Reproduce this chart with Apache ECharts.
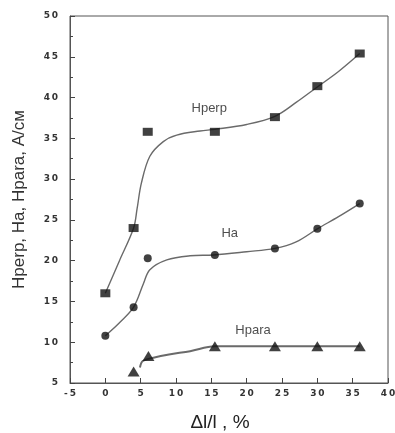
<!DOCTYPE html>
<html>
<head>
<meta charset="utf-8">
<script src="https://cdn.jsdelivr.net/npm/echarts@6/dist/echarts.min.js"></script>
<style>
  html, body { margin: 0; padding: 0; background: #fff; }
  #chart { width: 395px; height: 433px; }
</style>
</head>
<body>
<div id="chart"></div>
<script>
// measured points (strain, %)
var perpX = [0, 4, 6, 15.5, 24, 30, 36];
var perpY = [16, 24, 35.8, 35.8, 37.6, 41.4, 45.4];
var haX = [0, 4, 6, 15.5, 24, 30, 36];
var haY = [10.8, 14.3, 20.3, 20.7, 21.5, 23.9, 27];
var paraX = [4, 6.1, 15.5, 24, 30, 36];
var paraY = [6.4, 8.3, 9.5, 9.5, 9.5, 9.5];

// fitted curves
var perpFit = [[0, 16], [2, 20], [4, 24], [4.5, 26.4], [5.1, 29.5], [6.3, 32.8], [8.2, 34.6], [10.1, 35.4],
  [13.4, 35.9], [15.5, 36.1], [20, 36.7], [24, 37.7], [27, 39.4], [30, 41.3], [33, 43.2], [36, 45.4]];
var haFit = [[0, 10.8], [2, 12.4], [4, 14.3], [5.4, 17.2], [6.3, 18.9], [8.7, 20.1], [12, 20.6],
  [15.3, 20.7], [20, 21.1], [24, 21.5], [27, 22.3], [30, 23.9], [33, 25.4], [36, 27]];
var paraFit = [[4.9, 6.9], [5.3, 7.7], [6.8, 8.1], [9, 8.5], [12, 8.9], [15.5, 9.5], [24, 9.5], [30, 9.5], [36, 9.5]];

// curve names and where they are written
var curveNames = ['Hperp', 'Ha', 'Hpara'];
var namePos = [[14.7, 38.7], [17.6, 23.4], [20.9, 11.5]];

var xTicks = [-5, 40, 5];
var yTicks = [5, 50, 5];

function pairs(xs, ys) {
  return xs.map(function (x, i) { return [x, ys[i]]; });
}
function spaced(v) {
  return String(v).split('').join('\u2009');
}

var chart = echarts.init(document.getElementById('chart'));

var lineStyle = { color: '#6a6a6a', width: 1.4 };

var option = {
  animation: false,
  grid: {
    left: 70, top: 16, right: 7, bottom: 50,
    outerBoundsMode: 'none',
    show: true, borderColor: '#555', borderWidth: 1
  },
  xAxis: {
    type: 'value',
    min: xTicks[0], max: xTicks[1], interval: xTicks[2],
    name: 'Δl/l , %',
    nameLocation: 'middle',
    nameGap: 30,
    nameTextStyle: { fontFamily: 'Liberation Sans', fontSize: 19, color: '#222', padding: [0, 18, 0, 0] },
    axisLine: { onZero: false, lineStyle: { color: '#555' } },
    axisTick: { inside: true, length: 5, lineStyle: { color: '#444' } },
    axisLabel: {
      formatter: spaced, margin: 6,
      fontFamily: 'DejaVu Sans', fontSize: 9, fontWeight: 'bold', color: '#333'
    },
    splitLine: { show: false }
  },
  yAxis: {
    type: 'value',
    min: yTicks[0], max: yTicks[1], interval: yTicks[2],
    name: 'Hperp, Ha, Hpara, A/см',
    nameLocation: 'middle',
    nameGap: 42,
    nameTextStyle: { fontFamily: 'Liberation Sans', fontSize: 17, color: '#333' },
    axisLine: { onZero: false, lineStyle: { color: '#555' } },
    axisTick: { inside: true, length: 5, lineStyle: { color: '#444' } },
    minorTick: { show: true, splitNumber: 2, length: 3, lineStyle: { color: '#444' } },
    axisLabel: {
      formatter: spaced, margin: 12,
      fontFamily: 'DejaVu Sans', fontSize: 9, fontWeight: 'bold', color: '#333'
    },
    splitLine: { show: false }
  },
  series: [
    { type: 'line', data: perpFit, smooth: 0.35, showSymbol: false, lineStyle: lineStyle, z: 2 },
    { type: 'line', data: haFit, smooth: 0.35, showSymbol: false, lineStyle: lineStyle, z: 2 },
    { type: 'line', data: paraFit, smooth: 0.35, showSymbol: false, lineStyle: { color: '#6a6a6a', width: 2 }, z: 2 },
    { type: 'scatter', data: pairs(perpX, perpY), symbol: 'rect', symbolSize: [10, 8], itemStyle: { color: '#111' }, z: 3 },
    { type: 'scatter', data: pairs(haX, haY), symbol: 'circle', symbolSize: 8, itemStyle: { color: '#111' }, z: 3 },
    { type: 'scatter', data: pairs(paraX, paraY), symbol: 'triangle', symbolSize: [12, 10], itemStyle: { color: '#111' }, z: 3 },
    {
      type: 'scatter',
      data: namePos.map(function (p, i) { return { value: p, name: curveNames[i] }; }),
      symbolSize: 0,
      label: {
        show: true, position: 'inside', formatter: '{b}',
        fontFamily: 'Liberation Sans', fontSize: 13, color: '#222'
      },
      z: 4
    }
  ]
};

chart.setOption(option);
</script>
</body>
</html>
